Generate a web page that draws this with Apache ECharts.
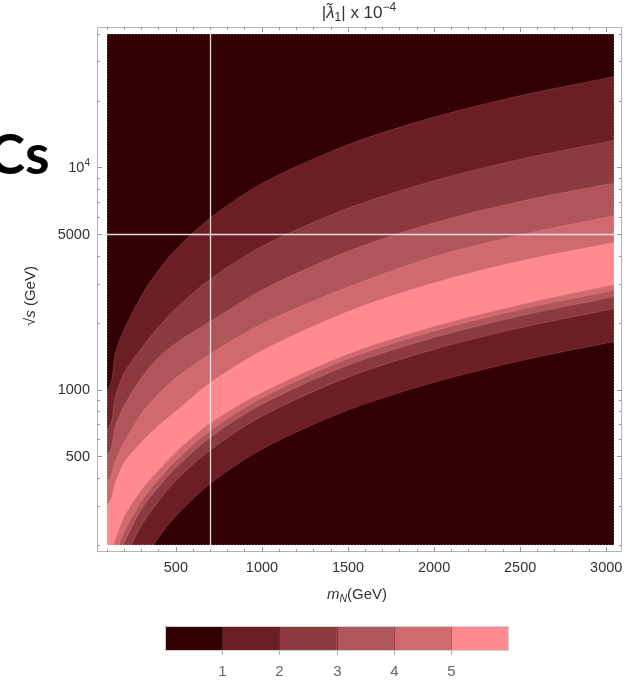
<!DOCTYPE html>
<html><head><meta charset="utf-8">
<script src="https://cdn.jsdelivr.net/npm/echarts@6/dist/echarts.min.js"></script>
<style>html,body{margin:0;padding:0;background:#fff}#c{width:628px;height:686px}</style>
</head><body><div id="c"></div>
<script>
// ---- data ----
const mN     = [100, 150, 200, 300, 400, 500, 700, 1000, 1500, 2000, 2500, 3000, 3045];
// upper branch of each contour level (sqrt(s) in GeV)
const upper1 = [1000, 1480, 1870, 2650, 3460, 4280, 5940, 8500, 12700, 16900, 21100, 25300, 25700];
const upper2 = [660, 940, 1190, 1540, 1920, 2320, 3150, 4420, 6570, 8740, 10900, 13070, 13270];
const upper3 = [510, 690, 850, 1130, 1400, 1620, 2030, 2810, 4200, 5650, 7050, 8400, 8500];
const upper4 = [390, 480, 580, 780, 960, 1130, 1452, 1980, 2900, 3975, 4980, 5980, 6080];
const upper5 = [303, 385, 470, 580, 690, 800, 1075, 1500, 2250, 3030, 3800, 4530, 4590];
// lower branch of each contour level
const lower5 = [180, 215, 270, 355, 435, 525, 710, 975, 1450, 1930, 2420, 2930, 2970];
const lower4 = [150, 185, 230, 315, 395, 480, 655, 920, 1380, 1840, 2300, 2760, 2800];
const lower3 = [130, 165, 205, 290, 365, 445, 610, 860, 1290, 1720, 2150, 2580, 2620];
const lower2 = [110, 140, 170, 245, 315, 390, 535, 760, 1140, 1520, 1900, 2280, 2320];
const lower1 = [54, 81, 108, 162, 216, 270, 378, 540, 810, 1080, 1350, 1620, 1640];
const contourLevels = [1, 2, 3, 4, 5];
const xRange = [100, 3045];
const yRange = [200, 40000];
const xMajorTicks = [500, 1000, 1500, 2000, 2500, 3000];
const xMinorTicks = [100, 200, 300, 400, 600, 700, 800, 900, 1100, 1200, 1300, 1400, 1600, 1700, 1800, 1900, 2100, 2200, 2300, 2400, 2600, 2700, 2800, 2900];
const yMajorTicks = [500, 1000, 5000, 10000];
const yMinorTicks = [200, 300, 400, 600, 700, 800, 900, 2000, 3000, 4000, 6000, 7000, 8000, 9000, 20000, 30000, 40000];
const refLineM = 700;
const refLineS = 5000;

// ---- styles ----
const bgColor = '#330004';
const bandColors = ['#330004', '#6b1f24', '#8c3a3f', '#b0555a', '#d16a6f', '#ff8a90'];
const FONT = '"Liberation Sans", Arial, sans-serif';
const upperCurves = [upper1, upper2, upper3, upper4, upper5];
const lowerCurves = [lower1, lower2, lower3, lower4, lower5];

const chart = echarts.init(document.getElementById('c'), null, {renderer: 'canvas'});

function xAxisDef(pos, ticks, len, labels) {
  return {
    type: 'value', position: pos, min: xRange[0], max: xRange[1], offset: 7,
    axisLine: {show: false}, splitLine: {show: false},
    axisTick: {show: true, inside: true, length: len, customValues: ticks, lineStyle: {color: '#9a9a9a', width: 1}},
    axisLabel: {show: labels, customValues: ticks, margin: 8, color: '#333', fontSize: 14.5, fontFamily: FONT,
      formatter: v => String(Math.round(v))}
  };
}
function yAxisDef(pos, ticks, len, labels, off) {
  return {
    type: 'log', logBase: 10, position: pos, min: yRange[0], max: yRange[1], offset: off,
    axisLine: {show: false}, splitLine: {show: false},
    axisTick: {show: true, inside: true, length: len, customValues: ticks, lineStyle: {color: '#9a9a9a', width: 1}},
    axisLabel: {show: labels, customValues: ticks, margin: 7, color: '#333', fontSize: 14.5, fontFamily: FONT,
      formatter: v => (Math.abs(v - 10000) < 1e-6 ? '{b|10}{p|4}' : '{b|' + Math.round(v) + '}'),
      rich: {b: {fontSize: 14.5, fontFamily: FONT, color: '#333', lineHeight: 18},
             p: {fontSize: 10, fontFamily: FONT, color: '#333', verticalAlign: 'top', lineHeight: 18}}}
  };
}

function renderBand(params, api) {
  const k = api.value(2);
  const up = mN.map((m, i) => api.coord([m, upperCurves[k][i]]));
  const lo = mN.map((m, i) => api.coord([m, lowerCurves[k][i]])).reverse();
  const e = 40;
  const n = up.length;
  const pts = [[up[0][0] - e, up[0][1]]].concat(up, [[up[n - 1][0] + e, up[n - 1][1]], [lo[0][0] + e, lo[0][1]]], lo, [[lo[n - 1][0] - e, lo[n - 1][1]]]);
  return {
    type: 'polygon',
    shape: {points: pts, smooth: 0.3},
    style: {fill: bandColors[k + 1], stroke: 'rgba(255,190,190,0.25)', lineWidth: 0.7}
  };
}

// legend
const legend = {x: 165, y: 626, w: 343, h: 24};
const segW = legend.w / bandColors.length;
const legendEls = [];
bandColors.forEach((c, i) => legendEls.push({type: 'rect', shape: {x: legend.x + i * segW, y: legend.y, width: segW + 0.5, height: legend.h}, style: {fill: c}}));
contourLevels.forEach((lv, i) => {
  const x = Math.round(legend.x + (i + 1) * segW) + 0.5;
  legendEls.push({type: 'line', shape: {x1: x, y1: legend.y, x2: x, y2: legend.y + legend.h}, style: {stroke: 'rgba(40,0,0,0.35)', lineWidth: 1}});
  legendEls.push({type: 'line', shape: {x1: x, y1: legend.y + legend.h, x2: x, y2: legend.y + legend.h + 5}, style: {stroke: '#aaa', lineWidth: 1}});
  legendEls.push({type: 'text', x: x, y: 672, style: {text: String(lv), fill: '#666', font: '15px ' + FONT, align: 'center', verticalAlign: 'middle'}});
});
legendEls.push({type: 'rect', shape: {x: legend.x + 0.5, y: legend.y + 0.5, width: legend.w, height: legend.h}, style: {fill: 'none', stroke: '#d0d0d0', lineWidth: 1}});

chart.setOption({
  animation: false,
  backgroundColor: '#fff',
  grid: {left: 107, top: 34, width: 507, height: 511, show: true, backgroundColor: bgColor, borderWidth: 0, containLabel: false},
  xAxis: [
    xAxisDef('bottom', xMajorTicks, 5, true),
    xAxisDef('bottom', xMinorTicks, 3, false),
    xAxisDef('top', xMajorTicks, 5, false),
    xAxisDef('top', xMinorTicks, 3, false)
  ],
  yAxis: [
    yAxisDef('left', yMajorTicks, 5, true, 10),
    yAxisDef('left', yMinorTicks, 3, false, 10),
    yAxisDef('right', yMajorTicks, 5, false, 8),
    yAxisDef('right', yMinorTicks, 3, false, 8)
  ],
  series: [
    {
      type: 'custom', name: 'bands', clip: true, silent: true,
      xAxisIndex: 0, yAxisIndex: 0,
      data: contourLevels.map((lv, i) => [xRange[0], yRange[0], i]),
      renderItem: renderBand
    },
    {
      type: 'line', name: 'ref', data: [], xAxisIndex: 0, yAxisIndex: 0, silent: true,
      markLine: {symbol: 'none', silent: true, label: {show: false}, animation: false,
        lineStyle: {color: '#f6eeee', width: 1.3, type: 'solid', opacity: 0.9},
        data: [{xAxis: refLineM}, {yAxis: refLineS}]}
    }
  ],
  graphic: [
    {type: 'rect', shape: {x: 97.5, y: 27.5, width: 524, height: 524}, style: {fill: 'none', stroke: '#b4b4b4', lineWidth: 1}, z: 0},
    {type: 'rect', shape: {x: 107, y: 34, width: 507, height: 511}, style: {fill: 'none', stroke: 'rgba(255,255,255,0.55)', lineWidth: 1, lineDash: [1, 2]}, z: 10},
    {type: 'text', x: 359, y: 13, style: {
      text: '{b||}{l|λ̃}{s|1}{b|| x 10}{p|−4}', align: 'center', verticalAlign: 'middle',
      rich: {
        b: {fontSize: 17, fontFamily: FONT, fill: '#333', lineHeight: 22},
        l: {fontSize: 17, fontFamily: FONT, fill: '#333', fontStyle: 'italic', lineHeight: 22},
        s: {fontSize: 12, fontFamily: FONT, fill: '#333', verticalAlign: 'bottom', lineHeight: 22},
        p: {fontSize: 12, fontFamily: FONT, fill: '#333', verticalAlign: 'top', lineHeight: 22}
      }}},
    {type: 'text', x: 357, y: 595, style: {
      text: '{i|m}{s|N}{b|(GeV)}', align: 'center', verticalAlign: 'middle',
      rich: {
        i: {fontSize: 15, fontFamily: FONT, fill: '#333', fontStyle: 'italic', lineHeight: 20},
        s: {fontSize: 10.5, fontFamily: FONT, fill: '#333', fontStyle: 'italic', verticalAlign: 'bottom', lineHeight: 20},
        b: {fontSize: 15, fontFamily: FONT, fill: '#333', lineHeight: 20}
      }}},
    {type: 'text', x: 31, y: 296, rotation: Math.PI / 2, style: {
      text: '{b|√}{i|s}{b| (GeV)}', align: 'center', verticalAlign: 'middle',
      rich: {
        b: {fontSize: 15, fontFamily: FONT, fill: '#333', lineHeight: 20},
        i: {fontSize: 15, fontFamily: FONT, fill: '#333', fontStyle: 'italic', lineHeight: 20}
      }}},
    {type: 'text', x: -12, y: 156, style: {text: 'Cs', fill: '#000', font: 'bold 56px Lato, "Open Sans", sans-serif', align: 'left', verticalAlign: 'middle'}}
  ].concat(legendEls)
});
</script>
</body></html>
